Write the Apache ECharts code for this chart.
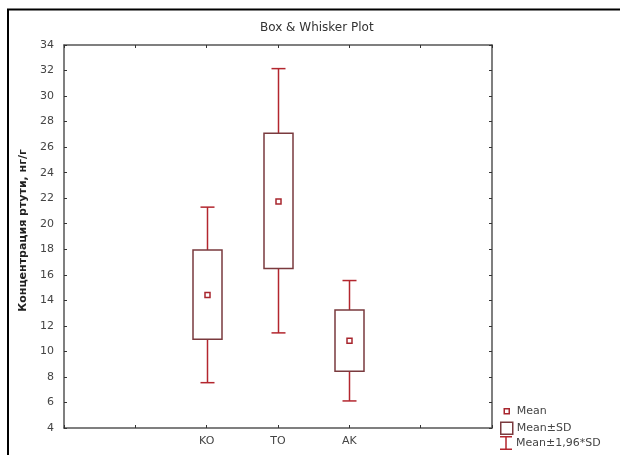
<!DOCTYPE html>
<html><head><meta charset="utf-8">
<script src="https://cdn.jsdelivr.net/npm/echarts@6/dist/echarts.min.js"></script>
<style>html,body{margin:0;padding:0;background:#fff}#c{width:620px;height:455px}</style>
</head><body><div id="c"></div>
<script>
// Data
var groups = ['KO', 'TO', 'AK'];
var groupPos = [2, 3, 4];
var means = [14.42, 21.75, 10.84];
var sdLow = [10.95, 16.50, 8.44];
var sdHigh = [17.94, 27.08, 13.24];
var ciLow = [7.55, 11.45, 6.12];
var ciHigh = [21.30, 32.15, 15.55];
var yTicks = [4, 6, 8, 10, 12, 14, 16, 18, 20, 22, 24, 26, 28, 30, 32, 34];
var legendNames = ['Mean', 'Mean±SD', 'Mean±1,96*SD'];

var FONT = 'DejaVu Sans, Verdana, sans-serif';
var BOX = '#7a3a3e';
var WHISK = '#b3262e';
var MEANC = '#a8262e';

var chart = echarts.init(document.getElementById('c'), null, {renderer: 'canvas'});

function rows(a, b) { return groupPos.map(function (p, i) { return [p, a[i], b ? b[i] : 0]; }); }

var tickStyle = {show: true, inside: true, length: 3, lineStyle: {color: '#333', width: 1}};

var legendIcons = [
  {icon: 'path://M0,0M12,12M3.5,3.5L8.5,3.5L8.5,8.5L3.5,8.5Z', itemStyle: {color: '#fff', borderColor: MEANC, borderWidth: 1.5}},
  {icon: 'path://M0,0L12,0L12,12L0,12Z', itemStyle: {color: '#fff', borderColor: BOX, borderWidth: 1.5}},
  {icon: 'path://M0,0L12,0L12,1.5L6.75,1.5L6.75,12.5L12,12.5L12,14L0,14L0,12.5L5.25,12.5L5.25,1.5L0,1.5Z',
    itemStyle: {color: WHISK, borderWidth: 0}}
];
var legendTops = [404.5, 421.5, 436];
var legendIconH = [12, 12, 14];

var option = {
  animation: false,
  backgroundColor: '#fff',
  title: {
    text: 'Box & Whisker Plot', left: 260, top: 22, padding: 0,
    textStyle: {fontFamily: FONT, fontSize: 12, fontWeight: 'normal', color: '#333'}
  },
  grid: {left: 64, right: 128, top: 45, bottom: 27, show: false},
  xAxis: [{
    type: 'value', min: 0, max: 6, interval: 1,
    axisLine: {show: true, onZero: false, lineStyle: {color: '#555', width: 1.5}},
    axisTick: tickStyle,
    splitLine: {show: false},
    axisLabel: {margin: 8, fontFamily: FONT, fontSize: 11, color: '#444',
      formatter: function (v) { var i = groupPos.indexOf(v); return i >= 0 ? groups[i] : ''; }}
  }, {
    type: 'value', min: 0, max: 6, interval: 1, position: 'top',
    axisLine: {show: true, onZero: false, lineStyle: {color: '#555', width: 1.5}},
    axisTick: tickStyle,
    splitLine: {show: false}, axisLabel: {show: false}
  }],
  yAxis: [{
    type: 'value', min: 4, max: 34, interval: 2,
    name: 'Концентрация ртути, нг/г', nameLocation: 'middle', nameGap: 30,
    nameTextStyle: {fontFamily: FONT, fontSize: 11, fontWeight: 'bold', color: '#222', padding: [0, 0, 0, 12]},
    axisLine: {show: true, onZero: false, lineStyle: {color: '#555', width: 1.5}},
    axisTick: tickStyle,
    splitLine: {show: false},
    axisLabel: {margin: 10, fontFamily: FONT, fontSize: 11, color: '#444',
      formatter: function (v) { return yTicks.indexOf(v) >= 0 ? String(v) : ''; }}
  }, {
    type: 'value', min: 4, max: 34, interval: 2, position: 'right',
    axisLine: {show: true, onZero: false, lineStyle: {color: '#555', width: 1.5}},
    axisTick: tickStyle,
    splitLine: {show: false}, axisLabel: {show: false}
  }],
  legend: legendNames.map(function (n, i) {
    return {
      orient: 'vertical', left: 500, top: legendTops[i], padding: 0,
      itemWidth: 12, itemHeight: legendIconH[i],
      textStyle: {fontFamily: FONT, fontSize: 11, color: '#444', padding: [0, 0, 0, -1]},
      data: [{name: n, icon: legendIcons[i].icon, itemStyle: legendIcons[i].itemStyle}]
    };
  }),
  graphic: [{
    type: 'rect', shape: {x: 8, y: 9.5, width: 700, height: 600},
    style: {fill: 'none', stroke: '#000', lineWidth: 2}, silent: true, z: 100
  }],
  series: [{
    name: 'Mean±1,96*SD', type: 'custom', color: WHISK,
    data: rows(ciLow, ciHigh),
    renderItem: function (params, api) {
      var lo = api.coord([api.value(0), api.value(1)]);
      var hi = api.coord([api.value(0), api.value(2)]);
      var x = Math.round(lo[0]) + 0.5, cw = 7;
      var st = {stroke: WHISK, lineWidth: 1.5};
      return {type: 'group', children: [
        {type: 'line', shape: {x1: x, y1: lo[1], x2: x, y2: hi[1]}, style: st},
        {type: 'line', shape: {x1: x - cw, y1: lo[1], x2: x + cw, y2: lo[1]}, style: st},
        {type: 'line', shape: {x1: x - cw, y1: hi[1], x2: x + cw, y2: hi[1]}, style: st}
      ]};
    }, z: 2
  }, {
    name: 'Mean±SD', type: 'custom', color: BOX,
    data: rows(sdLow, sdHigh),
    renderItem: function (params, api) {
      var lo = api.coord([api.value(0), api.value(1)]);
      var hi = api.coord([api.value(0), api.value(2)]);
      var w = 29;
      return {type: 'rect', shape: {x: Math.round(lo[0]) + 0.5 - w / 2, y: hi[1], width: w, height: lo[1] - hi[1]},
        style: {fill: '#fff', stroke: BOX, lineWidth: 1.5}};
    }, z: 3
  }, {
    name: 'Mean', type: 'custom', color: MEANC,
    data: rows(means),
    renderItem: function (params, api) {
      var p = api.coord([api.value(0), api.value(1)]);
      var s = 5;
      return {type: 'rect', shape: {x: Math.round(p[0]) + 0.5 - s / 2, y: p[1] - s / 2, width: s, height: s},
        style: {fill: '#fff', stroke: MEANC, lineWidth: 1.5}};
    }, z: 4
  }]
};
chart.setOption(option);
</script></body></html>
